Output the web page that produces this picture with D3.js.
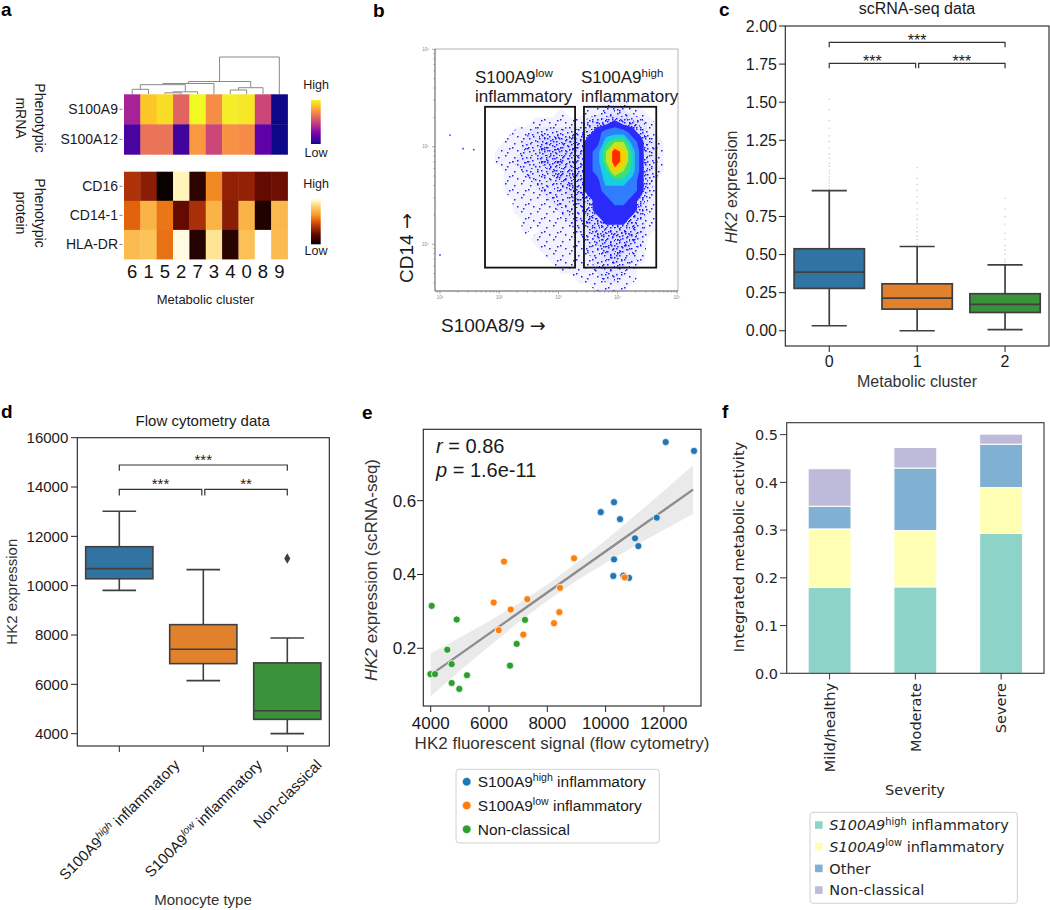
<!DOCTYPE html>
<html><head><meta charset="utf-8">
<script src="https://d3js.org/d3.v7.min.js"></script>
<style>
html,body{margin:0;padding:0;background:#fff;}
svg{display:block;font-family:'Liberation Sans',Arial,Helvetica,sans-serif;}
text{white-space:pre;}
</style></head><body>
<svg id="fig" width="1050" height="910" viewBox="0 0 1050 910"></svg>
<script>
// ================= DATA =================
// --- a: heatmaps ---
const heatClusters = ["6","1","5","2","7","3","4","0","8","9"];
const mrnaGenes = ["S100A9","S100A12"];
const mrnaS100A9  = [0.37,0.88,0.93,0.60,1.00,0.73,0.97,0.96,0.50,0.00];
const mrnaS100A12 = [0.12,0.65,0.65,0.10,0.76,0.50,0.74,0.72,0.17,0.00];
const proteinMarkers = ["CD16","CD14-1","HLA-DR"];
const protCD16  = [0.38,0.30,0.02,0.93,0.10,0.60,0.32,0.32,0.22,0.24];
const protCD14  = [0.52,0.72,0.56,0.22,0.37,0.72,0.30,0.72,0.07,0.74];
const protHLADR = [0.75,0.78,0.55,0.97,0.08,0.88,0.09,0.77,1.00,0.75];
// dendrogram merges [childA, childB, height]; 0-9 = heatmap columns, 10+k = k-th merge
const dendroMerges = [[6,7,4.0],[10,8,6.3],[0,1,4.7],[2,3,1.2],[13,4,2.2],[12,14,9.3],[15,5,10.5],[16,11,12.5],[17,9,37]];

// --- b: flow cytometry density grid (log10 units) ---
const flowLogX0 = 1.7, flowLogXStep = 0.15;
const flowLogYTop = 5.45, flowLogYStep = 0.1;
const flowDensity = [
 [0,0,0,0,0,0,0,0,0,0,0,0,0,0,1,1,1,0,0,0,0,0],
 [0,0,0,0,0,0,0,0,0,1,0,0,1,1,2,2,2,1,1,0,0,0],
 [0,0,0,0,0,0,1,1,1,1,1,1,2,3,3,4,3,3,2,1,0,0],
 [0,0,0,0,1,1,2,2,2,2,2,2,3,4,5,5,5,4,3,1,0,0],
 [0,0,0,1,1,2,2,3,3,3,3,3,4,4,6,7,7,5,4,2,1,0],
 [0,0,1,1,1,2,2,3,3,3,3,3,4,5,7,9,8,6,4,2,1,0],
 [0,0,1,1,2,2,2,3,3,3,3,3,4,5,7,9,8,6,4,2,1,0],
 [0,0,0,1,1,2,2,2,3,3,3,3,4,5,6,8,7,6,4,2,1,0],
 [0,0,0,1,1,1,2,2,2,3,3,3,4,4,6,6,6,5,4,2,0,0],
 [0,0,0,1,1,1,1,2,2,2,3,3,4,4,5,5,5,5,4,2,0,0],
 [0,0,0,0,1,1,1,1,2,2,2,3,3,4,4,5,5,4,3,1,0,0],
 [0,0,0,0,1,1,1,1,1,2,2,2,3,4,4,4,4,4,3,1,0,0],
 [0,0,0,0,0,1,1,1,1,1,2,2,3,3,4,4,4,3,2,1,0,0],
 [0,0,0,0,0,1,0,1,1,1,1,2,2,3,3,3,3,3,2,1,0,0],
 [0,0,0,0,0,0,1,1,1,1,1,1,2,3,3,3,3,3,2,0,0,0],
 [0,0,0,0,0,0,0,1,1,1,1,1,2,2,3,3,3,2,1,0,0,0],
 [0,0,0,0,0,0,0,0,1,1,1,1,1,2,2,3,2,2,1,0,0,0],
 [0,0,0,0,0,0,0,0,0,1,1,1,1,2,2,2,2,1,0,0,0,0],
 [0,0,0,0,0,0,0,0,0,0,0,1,1,1,2,2,1,1,0,0,0,0],
 [0,0,0,0,0,0,0,0,0,0,0,0,0,1,1,1,1,0,0,0,0,0]
];
const flowSparseEvents = [[1.17,5.12],[1.39,4.98],[1.57,4.97],[1.0,3.89]];
const gateLowX = [1.76,3.28], gateHighX = [3.43,4.65], gateY = [3.76,5.41];

// --- c: scRNA-seq boxplots ---
const scClusters = ["0","1","2"];
const scQ1 = [0.278,0.142,0.120];
const scMedian = [0.385,0.214,0.173];
const scQ3 = [0.538,0.308,0.243];
const scWhiskLo = [0.033,0.0,0.007];
const scWhiskHi = [0.92,0.553,0.433];
const scFliers = [
 [0.93,0.95,0.97,0.99,1.01,1.03,1.05,1.08,1.10,1.13,1.16,1.20,1.24,1.28,1.33,1.38,1.45,1.52],
 [0.57,0.60,0.62,0.65,0.68,0.70,0.73,0.76,0.80,0.84,0.88,0.92,0.96,1.00,1.07],
 [0.45,0.47,0.50,0.53,0.56,0.60,0.64,0.70,0.75,0.80,0.87]
];
const scSig = ["***","***","***"]; // 0-2, 0-1, 1-2

// --- d: flow cytometry boxplots ---
const monoTypes = ["S100A9high","S100A9low","Non-classical"];
const flowQ1 = [10280,6840,4580];
const flowMedian = [10690,7420,4930];
const flowQ3 = [11580,8420,6870];
const flowWhiskLo = [9810,6150,4000];
const flowWhiskHi = [13020,10650,7880];
const flowFliers = [[],[],[11100]];
const flowSig = ["***","***","**"]; // 0-2, 0-1, 1-2

// --- e: scatter ---
const highX = [12062,13034,10289,9833,10495,11754,11010,11123,10289,10265,10608,10804];
const highY = [0.759,0.735,0.596,0.569,0.550,0.554,0.498,0.477,0.441,0.396,0.397,0.391];
const lowX = [10656,8917,6515,8436,7315,6161,6745,8413,8230,6333,7177];
const lowY = [0.392,0.444,0.435,0.364,0.333,0.324,0.305,0.298,0.268,0.249,0.237];
const ncX = [4034,4892,7235,6950,4570,4720,6721,3990,4148,5245,4720,4981];
const ncY = [0.315,0.278,0.277,0.212,0.196,0.157,0.153,0.130,0.130,0.127,0.106,0.090];
const fitX = [4000,13000];
const fitY = [0.128,0.630];
const ciX = [4000,5000,6000,7000,8000,9000,10000,11000,12000,13000];
const ciLow = [0.070,0.139,0.205,0.269,0.329,0.383,0.431,0.477,0.521,0.564];
const ciHigh = [0.186,0.229,0.273,0.321,0.373,0.431,0.493,0.559,0.627,0.696];
const corrR = "0.86", corrP = "1.6e-11";

// --- f: stacked bars ---
const severity = ["Mild/healthy","Moderate","Severe"];
const fHigh = [0.180,0.181,0.293];
const fLow = [0.1225,0.118,0.096];
const fOther = [0.0475,0.131,0.091];
const fNonClassical = [0.0786,0.043,0.021];

// ================= DRAW =================
const svg = d3.select("#fig");
const defs = svg.append("defs");
const INK = "#1a1a1a";
const BOXLINE = "#3f3f3f";
const DEJA = "'DejaVu Sans', sans-serif";

function rich(textSel, parts, fs){
  let shifted = false;
  parts.forEach(p=>{
    const ts = textSel.append("tspan").text(p.t);
    if (p.it) ts.attr("font-style","italic");
    if (p.fam) ts.attr("font-family",p.fam);
    if (p.sup){ ts.attr("font-size",fs*0.68).attr("dy",-fs*0.38); shifted = true; }
    else if (shifted){ ts.attr("dy",fs*0.38); shifted = false; }
  });
  return textSel;
}
function label(x,y,t,fs,opts={}){
  const s = svg.append("text").attr("x",x).attr("y",y).attr("font-size",fs).attr("fill",opts.fill||INK).text(t);
  if(opts.anchor) s.attr("text-anchor",opts.anchor);
  if(opts.weight) s.attr("font-weight",opts.weight);
  if(opts.family) s.attr("font-family",opts.family);
  if(opts.style) s.attr("font-style",opts.style);
  return s;
}
function line(x1,y1,x2,y2,stroke,w){
  return svg.append("line").attr("x1",x1).attr("y1",y1).attr("x2",x2).attr("y2",y2).attr("stroke",stroke).attr("stroke-width",w);
}

// panel letters
[["a",1,16],["b",373,17],["c",719,16],["d",1,418],["e",362,419],["f",722,418]].forEach(([t,x,y])=>label(x,y,t,19,{weight:"bold",fill:"#000"}));

// ---------- Panel a ----------
(function(){
  const ax = d3.scaleBand().domain(d3.range(heatClusters.length)).range([124,287.5]);
  const ym = d3.scaleBand().domain(mrnaGenes).range([94.3,154.3]);
  const yp = d3.scaleBand().domain(proteinMarkers).range([171.7,259]);
  const protColor = d3.scaleLinear().domain([0,0.2,0.35,0.5,0.65,0.8,0.92,1])
    .range(["#000000","#5a0600","#a02808","#e05a08","#f8a030","#fcc860","#fff2b0","#ffffff"]);
  const mrnaRows = [mrnaS100A9, mrnaS100A12];
  const protRows = [protCD16, protCD14, protHLADR];
  const g = svg.append("g");
  mrnaRows.forEach((row,ri)=>{
    g.selectAll(null).data(row).join("rect")
      .attr("x",(d,i)=>ax(i)).attr("y",ym(mrnaGenes[ri]))
      .attr("width",ax.bandwidth()+0.4).attr("height",ym.bandwidth()+0.4)
      .attr("fill",d=>d3.interpolatePlasma(d));
  });
  protRows.forEach((row,ri)=>{
    g.selectAll(null).data(row).join("rect")
      .attr("x",(d,i)=>ax(i)).attr("y",yp(proteinMarkers[ri]))
      .attr("width",ax.bandwidth()+0.4).attr("height",yp.bandwidth()+0.4)
      .attr("fill",d=>protColor(d));
  });
  mrnaGenes.forEach(m=>{
    const y = ym(m)+ym.bandwidth()/2;
    label(118,y+5,m,14,{anchor:"end"});
    line(119.5,y,122.5,y,"#888",1);
  });
  proteinMarkers.forEach(m=>{
    const y = yp(m)+yp.bandwidth()/2;
    label(118,y+5,m,14,{anchor:"end"});
    line(119.5,y,122.5,y,"#888",1);
  });
  heatClusters.forEach((c,i)=>label(ax(i)+ax.bandwidth()/2,278,c,18.5,{anchor:"middle",fill:"#111"}));
  label(205.5,304,"Metabolic cluster",13,{anchor:"middle"});
  function rot90(x,y,t){ svg.append("text").attr("transform",`translate(${x},${y}) rotate(90)`).attr("text-anchor","middle").attr("font-size",14).attr("fill",INK).text(t); }
  rot90(34.5,118,"Phenotypic"); rot90(15.5,118,"mRNA");
  rot90(34.5,213,"Phenotypic"); rot90(15.5,213,"protein");
  const hY = d3.scaleLinear().domain([0,37]).range([94,57]);
  const nodes = d3.range(heatClusters.length).map(i=>({x:ax(i)+ax.bandwidth()/2,h:0}));
  const dg = svg.append("g").attr("fill","none").attr("stroke","#8a8a8a").attr("stroke-width",1);
  dendroMerges.forEach(([a,b,h])=>{
    const A = nodes[a], B = nodes[b];
    dg.append("path").attr("d",`M${A.x},${hY(A.h)}V${hY(h)}H${B.x}V${hY(B.h)}`);
    nodes.push({x:(A.x+B.x)/2,h:h});
  });
  const g1 = defs.append("linearGradient").attr("id","gPlasma").attr("x1",0).attr("y1",1).attr("x2",0).attr("y2",0);
  d3.range(0,1.0001,0.1).forEach(t=>g1.append("stop").attr("offset",t).attr("stop-color",d3.interpolatePlasma(t)));
  const g2 = defs.append("linearGradient").attr("id","gHot").attr("x1",0).attr("y1",1).attr("x2",0).attr("y2",0);
  d3.range(0,1.0001,0.05).forEach(t=>g2.append("stop").attr("offset",t).attr("stop-color",protColor(t)));
  svg.append("rect").attr("x",311).attr("y",100).attr("width",9.7).attr("height",44).attr("fill","url(#gPlasma)");
  svg.append("rect").attr("x",311).attr("y",198.3).attr("width",9.7).attr("height",46).attr("fill","url(#gHot)");
  label(316,89.3,"High",12.5,{anchor:"middle"}); label(316,156.7,"Low",12.5,{anchor:"middle"});
  label(316,187.7,"High",12.5,{anchor:"middle"}); label(316,255,"Low",12.5,{anchor:"middle"});
})();

// ---------- Panel b ----------
(function(){
  const bx = d3.scaleLinear().domain([0.916,5.017]).range([435,678]);
  const by = d3.scaleLinear().domain([3.52,6.003]).range([291,49]);
  defs.append("clipPath").attr("id","clipB").append("rect").attr("x",435).attr("y",49).attr("width",243).attr("height",242);
  // stipple patterns that emulate individual events at low density
  const stipples = [
    {w:16,h:14,dots:[[2,3],[9,1],[13,8],[5,10],[11,12],[0,7]]},
    {w:15,h:13,dots:[[1,1],[7,4],[12,2],[4,8],[10,10],[14,6],[6,12],[2,5]]},
    {w:14,h:12,dots:[[3,0],[8,2],[12,5],[1,6],[6,7],[10,9],[4,11],[13,11],[9,5],[0,3]]}
  ];
  stipples.forEach((s,i)=>{
    const p = defs.append("pattern").attr("id","stip"+i).attr("patternUnits","userSpaceOnUse").attr("width",s.w).attr("height",s.h);
    s.dots.forEach(([x,y])=>p.append("rect").attr("x",x).attr("y",y).attr("width",1.5).attr("height",1.5).attr("fill","#1c1cff"));
  });
  const ny = flowDensity.length, nx = flowDensity[0].length;
  const thresholds = [0.5,1.5,2.5,3.5,4.5,5.5,6.3,7.0,7.7,8.4];
  const fills = ["url(#stip0)","url(#stip1)","url(#stip2)","#2a2afa","#2f7eff","#18cfe0","#3fdf70","#b8e82a","#ffcc00","#ff2e00"];
  const bands = d3.contours().size([nx,ny]).thresholds(thresholds).smooth(true)(flowDensity.flat());
  const proj = d3.geoTransform({point:function(x,y){
    this.stream.point(bx(flowLogX0+(x-0.5)*flowLogXStep), by(flowLogYTop-(y-0.5)*flowLogYStep));
  }});
  const path = d3.geoPath(proj);
  const g = svg.append("g").attr("clip-path","url(#clipB)");
  g.selectAll("path.tint").data(bands.slice(0,3)).join("path").attr("class","tint").attr("d",path).attr("fill","#5a5aff").attr("opacity",0.08);
  g.selectAll("path.band").data(bands).join("path").attr("class","band").attr("d",path).attr("fill",(d,i)=>fills[i]);
  g.selectAll("circle").data(flowSparseEvents).join("circle")
    .attr("cx",d=>bx(d[0])).attr("cy",d=>by(d[1])).attr("r",0.9).attr("fill","#3a3aff");
  [gateLowX,gateHighX].forEach(gx=>{
    svg.append("rect").attr("x",bx(gx[0])).attr("y",by(gateY[1])).attr("width",bx(gx[1])-bx(gx[0]))
      .attr("height",by(gateY[0])-by(gateY[1])).attr("fill","none").attr("stroke","#111").attr("stroke-width",1.8);
  });
  line(435,49,678,49,"#b5b5b5",1); line(678,49,678,291,"#b5b5b5",1);
  line(435,49,435,291,"#555",1); line(435,291,678,291,"#555",1);
  for(let d=0; d<=6; d++){
    for(let k=1;k<=9;k++){
      const v = d+Math.log10(k);
      if(v>=bx.domain()[0] && v<=bx.domain()[1]){
        const x = bx(v); line(x,291,x,291+(k===1?3:1.6),"#777",0.6);
        if(k===1) label(x,299,"10"+"⁰¹²³⁴⁵⁶"[d],4.5,{anchor:"middle",fill:"#888"});
      }
      if(v>=by.domain()[0] && v<=by.domain()[1]){
        const y = by(v); line(435,y,435-(k===1?3:1.6),y,"#777",0.6);
        if(k===1) label(429,y+1.5,"10"+"⁰¹²³⁴⁵⁶"[d],4.5,{anchor:"end",fill:"#888"});
      }
    }
  }
  rich(label(475,83,"",17),[{t:"S100A9"},{t:"low",sup:true}],17);
  label(475,101.7,"inflammatory",17);
  rich(label(581,83,"",17),[{t:"S100A9"},{t:"high",sup:true}],17);
  label(581,101.7,"inflammatory",17);
  rich(svg.append("text").attr("transform","translate(412.5,248) rotate(-90)").attr("text-anchor","middle")
    .attr("font-size",19).attr("fill",INK),[{t:"CD14 "},{t:"→",fam:DEJA}],19);
  rich(label(441,332,"",19),[{t:"S100A8/9 "},{t:"→",fam:DEJA}],19);
})();

// ---------- shared helpers for box panels ----------
function drawBoxes(xs, ys, cats, q1, med, q3, wlo, whi, colors, lw){
  cats.forEach((c,i)=>{
    const cx = xs(c)+xs.bandwidth()/2, bw = xs.bandwidth()*0.8, cw = xs.bandwidth()*0.4;
    const g = svg.append("g").attr("stroke",BOXLINE).attr("stroke-width",lw);
    g.append("line").attr("x1",cx).attr("x2",cx).attr("y1",ys(q3[i])).attr("y2",ys(whi[i]));
    g.append("line").attr("x1",cx).attr("x2",cx).attr("y1",ys(q1[i])).attr("y2",ys(wlo[i]));
    g.append("line").attr("x1",cx-cw/2).attr("x2",cx+cw/2).attr("y1",ys(whi[i])).attr("y2",ys(whi[i]));
    g.append("line").attr("x1",cx-cw/2).attr("x2",cx+cw/2).attr("y1",ys(wlo[i])).attr("y2",ys(wlo[i]));
    g.append("rect").attr("x",cx-bw/2).attr("y",ys(q3[i])).attr("width",bw).attr("height",ys(q1[i])-ys(q3[i])).attr("fill",colors[i]);
    g.append("line").attr("x1",cx-bw/2).attr("x2",cx+bw/2).attr("y1",ys(med[i])).attr("y2",ys(med[i]));
  });
}
function bracket(x1,x2,y,drop,txt,fs,tdy){
  svg.append("path").attr("d",`M${x1},${y+drop}V${y}H${x2}V${y+drop}`).attr("fill","none").attr("stroke","#333").attr("stroke-width",1.2);
  label((x1+x2)/2,y+tdy,txt,fs,{anchor:"middle"});
}
function frame(x0,y0,x1,y1,stroke){
  svg.append("rect").attr("x",x0).attr("y",y0).attr("width",x1-x0).attr("height",y1-y0).attr("fill","none").attr("stroke",stroke||"#222").attr("stroke-width",1.1);
}
const boxColors = ["#3274a1","#e1812c","#3a923a"];

// ---------- Panel c ----------
(function(){
  const xs = d3.scaleBand().domain(scClusters).range([785.3,1049]);
  const ys = d3.scaleLinear().domain([-0.1,2.0]).range([346,26]);
  scClusters.forEach((c,i)=>{
    const cx = xs(c)+xs.bandwidth()/2;
    svg.append("g").selectAll("circle").data(scFliers[i]).join("circle")
      .attr("cx",cx).attr("cy",d=>ys(d)).attr("r",0.7).attr("fill","#9a9a9a").attr("opacity",0.6);
  });
  drawBoxes(xs,ys,scClusters,scQ1,scMedian,scQ3,scWhiskLo,scWhiskHi,boxColors,1.7);
  frame(785.3,26,1049,346);
  d3.range(0,2.001,0.25).forEach(v=>{
    const y = ys(v); line(779,y,785.3,y,"#222",1);
    label(777,y+5.6,d3.format(".2f")(v),16,{anchor:"end"});
  });
  scClusters.forEach(c=>{
    const x = xs(c)+xs.bandwidth()/2; line(x,346,x,352,"#222",1);
    label(x,367,c,16,{anchor:"middle"});
  });
  label(917,14,"scRNA-seq data",16,{anchor:"middle"});
  label(917,387,"Metabolic cluster",16,{anchor:"middle",fill:"#333"});
  rich(svg.append("text").attr("transform","translate(737,187) rotate(-90)").attr("text-anchor","middle")
    .attr("font-size",16).attr("fill","#333"),[{t:"HK2",it:true},{t:" expression"}],16);
  const c0 = xs("0")+xs.bandwidth()/2, c1 = xs("1")+xs.bandwidth()/2, c2 = xs("2")+xs.bandwidth()/2;
  bracket(c0,c2,ys(1.893),5,scSig[0],16,4);
  bracket(c0,c1-1.5,ys(1.755),5,scSig[1],16,4);
  bracket(c1+1.5,c2,ys(1.755),5,scSig[2],16,4);
})();

// ---------- Panel d ----------
(function(){
  const xs = d3.scaleBand().domain(monoTypes).range([77.3,329.3]);
  const ys = d3.scaleLinear().domain([3500,16000]).range([746,437.7]);
  drawBoxes(xs,ys,monoTypes,flowQ1,flowMedian,flowQ3,flowWhiskLo,flowWhiskHi,boxColors,1.6);
  monoTypes.forEach((m,i)=>{
    const cx = xs(m)+xs.bandwidth()/2;
    svg.append("g").selectAll("path").data(flowFliers[i]).join("path")
      .attr("transform",d=>`translate(${cx},${ys(d)})`).attr("d",d3.symbol(d3.symbolDiamond,32)).attr("fill","#3f3f3f");
  });
  frame(77.3,437.7,329.3,746);
  d3.range(4000,16001,2000).forEach(v=>{
    const y = ys(v); line(71,y,77.3,y,"#222",1);
    label(68.3,y+5.3,String(v),15,{anchor:"end"});
  });
  const parts = [
    [{t:"S100A9"},{t:"high",sup:true,it:true},{t:" inflammatory"}],
    [{t:"S100A9"},{t:"low",sup:true,it:true},{t:" inflammatory"}],
    [{t:"Non-classical"}]
  ];
  monoTypes.forEach((m,i)=>{
    const cx = xs(m)+xs.bandwidth()/2; line(cx,746,cx,752,"#222",1);
    const g = svg.append("g");
    const t = g.append("text").attr("text-anchor","middle").attr("font-size",15).attr("fill",INK).attr("dy","0.35em");
    rich(t,parts[i],15);
    const L = t.node().getComputedTextLength();
    const half = (L+15)*Math.SQRT1_2/2;
    g.attr("transform",`translate(${cx},${757+half}) rotate(-45)`);
  });
  label(202.7,426,"Flow cytometry data",15,{anchor:"middle"});
  label(203,905,"Monocyte type",15,{anchor:"middle",fill:"#333"});
  svg.append("text").attr("transform","translate(16.5,591.7) rotate(-90)").attr("text-anchor","middle")
    .attr("font-size",15).attr("fill","#333").text("HK2 expression");
  const c0 = xs(monoTypes[0])+xs.bandwidth()/2, c1 = xs(monoTypes[1])+xs.bandwidth()/2, c2 = xs(monoTypes[2])+xs.bandwidth()/2;
  bracket(c0,c2,465,5.7,flowSig[0],15,0);
  bracket(c0,c1-1.5,489.3,6.3,flowSig[1],15,0);
  bracket(c1+1.5,c2,489.3,6.3,flowSig[2],15,0);
})();

// ---------- Panel e ----------
(function(){
  const xs = d3.scaleLinear().domain([3746,13273]).range([423.3,701]);
  const ys = d3.scaleLinear().domain([0.0436,0.7935]).range([706,429.3]);
  const area = d3.area().x(d=>xs(d[0])).y0(d=>ys(d[1])).y1(d=>ys(d[2]));
  svg.append("path").datum(ciX.map((x,i)=>[x,ciLow[i],ciHigh[i]])).attr("d",area).attr("fill","#e6e6e6").attr("opacity",0.85);
  svg.append("path").datum(fitX.map((x,i)=>[x,fitY[i]])).attr("d",d3.line().x(d=>xs(d[0])).y(d=>ys(d[1])))
    .attr("stroke","#8c8c8c").attr("stroke-width",2.4).attr("fill","none");
  const groups = [[highX,highY,"#1f77b4"],[lowX,lowY,"#ff7f0e"],[ncX,ncY,"#2ca02c"]];
  groups.forEach(([X,Y,col])=>{
    svg.append("g").selectAll("circle").data(X.map((x,i)=>[x,Y[i]])).join("circle")
      .attr("cx",d=>xs(d[0])).attr("cy",d=>ys(d[1])).attr("r",3.6).attr("fill",col).attr("stroke","#fff").attr("stroke-width",0.8);
  });
  frame(423.3,429.3,701,706);
  [4000,6000,8000,10000,12000].forEach(v=>{
    const x = xs(v); line(x,706,x,712,"#222",1);
    label(x,728.5,String(v),17,{anchor:"middle"});
  });
  [0.2,0.4,0.6].forEach(v=>{
    const y = ys(v); line(417,y,423.3,y,"#222",1);
    label(416.3,y+6,String(v),17,{anchor:"end"});
  });
  label(562,749,"HK2 fluorescent signal (flow cytometry)",17,{anchor:"middle",fill:"#333"});
  rich(svg.append("text").attr("transform","translate(377,570) rotate(-90)").attr("text-anchor","middle")
    .attr("font-size",17).attr("fill","#333"),[{t:"HK2",it:true},{t:" expression (scRNA-seq)"}],17);
  rich(label(436,453,"",20),[{t:"r",it:true},{t:" = "+corrR}],20);
  rich(label(436,476.7,"",20),[{t:"p",it:true},{t:" = "+corrP}],20);
  svg.append("rect").attr("x",456).attr("y",769.3).attr("width",203.3).attr("height",73.7).attr("rx",3)
    .attr("fill","#fff").attr("stroke","#d0d0d0").attr("stroke-width",1);
  const entries = [
    ["#1f77b4",[{t:"S100A9"},{t:"high",sup:true},{t:" inflammatory"}]],
    ["#ff7f0e",[{t:"S100A9"},{t:"low",sup:true},{t:" inflammatory"}]],
    ["#2ca02c",[{t:"Non-classical"}]]
  ];
  entries.forEach(([col,p],i)=>{
    const y = 781.7+i*23.8;
    svg.append("circle").attr("cx",466.7).attr("cy",y).attr("r",4.3).attr("fill",col).attr("stroke","#fff").attr("stroke-width",0.6);
    rich(label(477.7,y+5.5,"",15.5),p,15.5);
  });
})();

// ---------- Panel f ----------
(function(){
  const xs = d3.scaleBand().domain(severity).range([786.7,1044]).paddingInner(0.5).paddingOuter(0.25);
  const ys = d3.scaleLinear().domain([0,0.525]).range([673.3,422.7]);
  const keys = ["high","low","other","nc"];
  const cols = {high:"#8dd3c7",low:"#ffffb3",other:"#80b1d3",nc:"#bebada"};
  const rows = severity.map((s,i)=>({s, high:fHigh[i], low:fLow[i], other:fOther[i], nc:fNonClassical[i]}));
  const stack = d3.stack().keys(keys)(rows);
  stack.forEach(layer=>{
    svg.append("g").selectAll("rect").data(layer).join("rect")
      .attr("x",d=>xs(d.data.s)).attr("width",xs.bandwidth())
      .attr("y",d=>ys(d[1])).attr("height",d=>ys(d[0])-ys(d[1]))
      .attr("fill",cols[layer.key]).attr("stroke","#fff").attr("stroke-width",1);
  });
  frame(786.7,422.7,1044,673.3,"#333");
  d3.range(0,0.5001,0.1).forEach(v=>{
    const y = ys(v); line(780,y,786.7,y,"#333",1);
    label(778,y+5.3,d3.format(".1f")(v),14.5,{anchor:"end",family:DEJA,fill:"#262626"});
  });
  severity.forEach(s=>{
    const x = xs(s)+xs.bandwidth()/2; line(x,673.3,x,679.5,"#333",1);
    svg.append("text").attr("transform",`translate(${x},683) rotate(-90)`).attr("text-anchor","end").attr("dy","0.36em")
      .attr("font-size",14.5).attr("font-family",DEJA).attr("fill","#262626").text(s);
  });
  label(915,795,"Severity",14.5,{anchor:"middle",family:DEJA,fill:"#262626"});
  svg.append("text").attr("transform","translate(743.5,547) rotate(-90)").attr("text-anchor","middle")
    .attr("font-size",14.5).attr("font-family",DEJA).attr("fill","#262626").text("Integrated metabolic activity");
  svg.append("rect").attr("x",810).attr("y",812.3).attr("width",207.3).attr("height",91).attr("rx",3)
    .attr("fill","#fff").attr("stroke","#d0d0d0").attr("stroke-width",1);
  const entries = [
    [cols.high,[{t:"S100A9",it:true},{t:"high",sup:true},{t:" inflammatory"}]],
    [cols.low,[{t:"S100A9",it:true},{t:"low",sup:true},{t:" inflammatory"}]],
    [cols.other,[{t:"Other"}]],
    [cols.nc,[{t:"Non-classical"}]]
  ];
  entries.forEach(([col,p],i)=>{
    const y = 825+i*21.7;
    svg.append("rect").attr("x",815).attr("y",y-3.8).attr("width",7.6).attr("height",7.6).attr("fill",col);
    rich(label(829.3,y+5.2,"",14.5,{family:DEJA,fill:"#262626"}),p,14.5);
  });
})();
</script>
</body></html>
